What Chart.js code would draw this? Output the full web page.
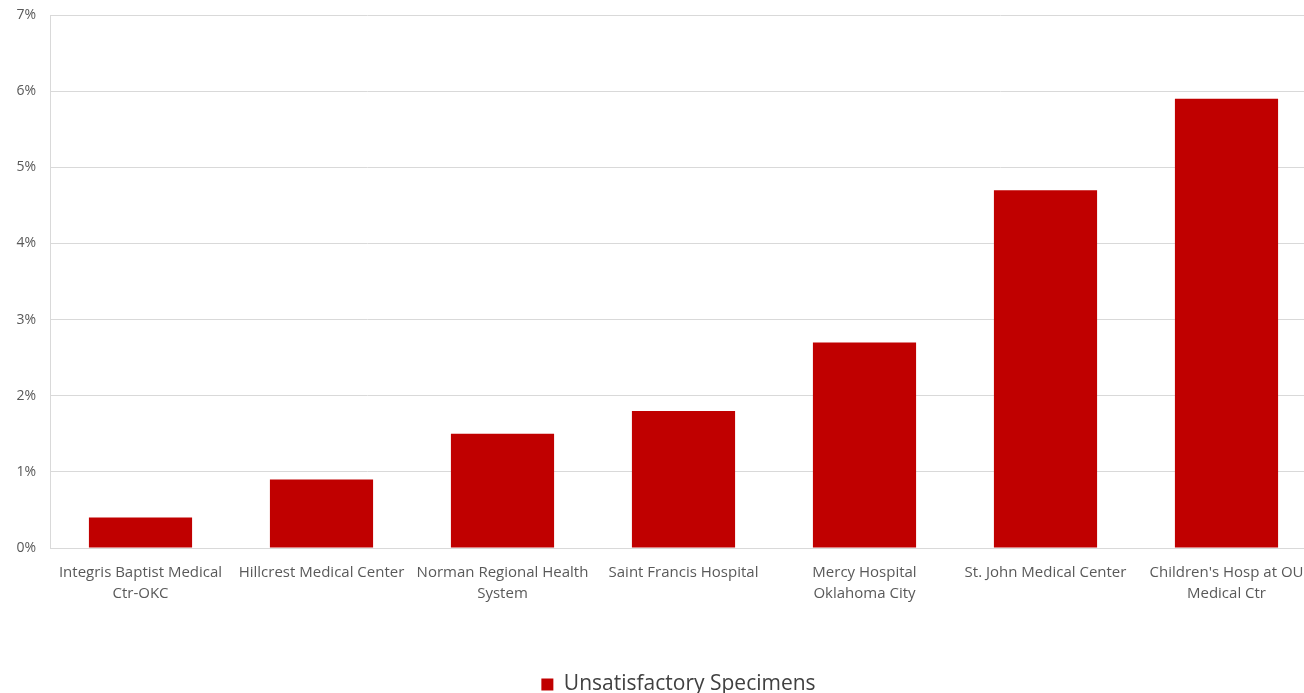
<!DOCTYPE html>
<html>
<head>
<meta charset="utf-8">
<script src="https://cdn.jsdelivr.net/npm/chart.js@4/dist/chart.umd.min.js"></script>
<style>
    html, body { margin: 0; padding: 0; background: #fff; overflow: hidden; }
    #wrap { width: 1357px; height: 693px; position: relative; }
</style>
</head>
<body>
<div id="wrap"><canvas id="chart"></canvas></div>
<script>
// Data
const hospitals = [
    ['Integris Baptist Medical', 'Ctr-OKC'],
    'Hillcrest Medical Center',
    ['Norman Regional Health', 'System'],
    'Saint Francis Hospital',
    ['Mercy Hospital', 'Oklahoma City'],
    'St. John Medical Center',
    ["Children's Hosp at OU", 'Medical Ctr']
];
const unsatisfactoryPct = [0.4, 0.9, 1.5, 1.8, 2.7, 4.7, 5.9];
const seriesName = 'Unsatisfactory Specimens';
const yMax = 7;
const yStep = 1;

const fontFamily = '"Open Sans", Lato, sans-serif';

new Chart(document.getElementById('chart'), {
    type: 'bar',
    data: {
        labels: hospitals,
        datasets: [{
            label: seriesName,
            data: unsatisfactoryPct,
            backgroundColor: '#C00000',
            borderWidth: 0,
            categoryPercentage: 1.0,
            barPercentage: 0.57
        }]
    },
    options: {
        responsive: true,
        maintainAspectRatio: false,
        animation: false,
        layout: { padding: { top: 0, right: 0, left: 0, bottom: -12 } },
        plugins: {
            tooltip: { enabled: false },
            legend: {
                position: 'bottom',
                labels: {
                    boxWidth: 12,
                    boxHeight: 12,
                    padding: 2,
                    color: '#404040',
                    font: { family: fontFamily, size: 21 }
                }
            }
        },
        scales: {
            x: {
                grid: { display: false, drawTicks: false },
                border: { color: '#d9d9d9' },
                ticks: {
                    color: '#595959',
                    font: { family: fontFamily, size: 15, lineHeight: 1.4 },
                    padding: 14,
                    maxRotation: 0,
                    autoSkip: false
                },
                afterFit: (axis) => { axis.height = 124; }
            },
            y: {
                min: 0,
                max: yMax,
                grid: { color: '#d9d9d9', drawTicks: false },
                border: { color: '#d9d9d9' },
                ticks: {
                    stepSize: yStep,
                    color: '#595959',
                    font: { family: fontFamily, size: 14 },
                    padding: 14,
                    callback: (v) => v + '%'
                },
                afterFit: (axis) => {
                    axis.width = 50;
                    axis.paddingTop = 15;
                    axis.paddingBottom = 0;
                }
            },
            // empty right margin so the plot ends where the reference crops it
            yRight: {
                position: 'right',
                grid: { display: false },
                border: { display: false },
                ticks: { display: false },
                afterFit: (axis) => {
                    axis.width = 40;
                    axis.paddingTop = 15;
                    axis.paddingBottom = 0;
                }
            }
        }
    }
});
</script>
</body>
</html>
